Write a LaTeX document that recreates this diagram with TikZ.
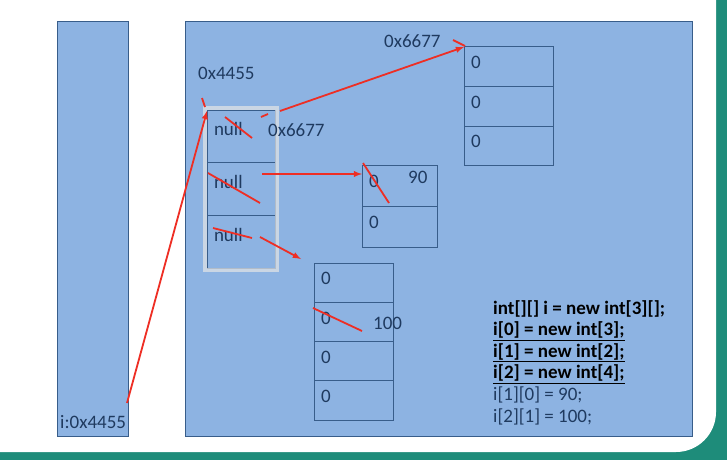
\documentclass[tikz,border=0pt]{standalone}
\usepackage{fontspec}
\setmainfont{Carlito}
\usetikzlibrary{arrows,positioning}
\definecolor{panel}{HTML}{8DB3E2}
\definecolor{edge}{HTML}{385D8A}
\definecolor{ink}{HTML}{1F3A5F}
\definecolor{mark}{HTML}{EE2E24}
\definecolor{rim}{HTML}{1E8C7A}

\begin{document}
\begin{tikzpicture}[
  x=1pt,y=-1pt,
  node distance=0pt,
  area/.style={draw=edge,fill=panel,line width=1pt},
  cell/.style={draw=edge,line width=1pt,outer sep=0pt,inner xsep=7pt,
    text=ink,font=\fontsize{19}{21}\selectfont,align=left},
  topcell/.style={cell,text width=75pt,minimum height=39.5pt,text depth=8pt},
  midcell/.style={cell,text width=61pt,minimum height=41pt,text depth=8pt},
  lowcell/.style={cell,text width=65pt,minimum height=39.25pt,text depth=8pt},
  nullcell/.style={cell,text width=54pt,minimum height=52.7pt,text depth=14pt},
  addr/.style={text=ink,font=\fontsize{19}{21}\selectfont,anchor=west,inner sep=0pt},
  pointer/.style={draw=mark,line width=1.8pt,-latex},
  strike/.style={draw=mark,line width=1.8pt}
]
  \useasboundingbox (0,0) rectangle (727,460);
  \fill[rim] (0,0) rectangle (727,460);
  \fill[white,rounded corners=40pt] (-40,-40) rectangle (716,452);

  % stack and heap
  \draw[area] (57,22) rectangle (128,436);
  \draw[area] (185,22) rectangle (692,436);
  \node[addr] (ivar) at (60,422) {i:0x4455};

  % i -> int[3][]
  \node[nullcell,anchor=north west] (n0) at (207,110) {null};
  \node[nullcell,below=of n0] (n1) {null};
  \node[nullcell,below=of n1] (n2) {null};
  \draw[white!80!gray,line width=3.5pt,opacity=.7] (205,108) rectangle (277,270);
  \node[addr] (a4455) at (198,73) {0x4455};
  \node[addr] (a6677) at (268,130) {0x6677};

  % i[0]
  \node[topcell,anchor=north west] (t0) at (464,47) {0};
  \node[topcell,below=of t0] (t1) {0};
  \node[topcell,below=of t1] (t2) {0};
  \node[addr] (b6677) at (384,41) {0x6677};

  % i[1]
  \node[midcell,anchor=north west] (m0) at (362,165) {0};
  \node[midcell,below=of m0] (m1) {0};
  \node[addr] (v90) at (408,177) {90};

  % i[2]
  \node[lowcell,anchor=north west] (l0) at (314,263) {0};
  \node[lowcell,below=of l0] (l1) {0};
  \node[lowcell,below=of l1] (l2) {0};
  \node[lowcell,below=of l2] (l3) {0};
  \node[addr] (v100) at (373,323) {100};

  % code
  \node[anchor=north west,align=left,inner sep=0pt,
    font=\fontsize{19}{21.6}\selectfont] (code) at (493,300)
    {\textbf{int[][] i = new int[3][];}\\
     \underline{\textbf{i[0] = new int[3];}}\\
     \underline{\textbf{i[1] = new int[2];}}\\
     \underline{\textbf{i[2] = new int[4];}}\\
     \textcolor{ink}{i[1][0] = 90;}\\
     \textcolor{ink}{i[2][1] = 100;}};

  % pointers
  \coordinate (p0) at (127,403);
  \coordinate (q0) at (207,111);
  \coordinate (p1) at (280,111);
  \coordinate (p2) at (262,174);
  \coordinate (q2) at (362,174);
  \coordinate (p3) at (260,237);
  \coordinate (q3) at (301,259);
  \draw[pointer] (p0) -- (q0);
  \draw[pointer] (p1) -- (t0.north west);
  \draw[pointer] (p2) -- (q2);
  \draw[pointer] (p3) -- (q3);

  % crossings out
  \draw[strike] (202,98) -- (205,107);
  \draw[strike] (453,40) -- (465,46);
  \draw[strike] (261,117) -- (268,114);
  \draw[strike] (225,117) -- (252,138);
  \draw[strike] (208,173) -- (260,203);
  \draw[strike] (213,228) -- (252,238);
  \draw[strike] (363,163) -- (389,203);
  \draw[strike] (313,308) -- (362,331);
\end{tikzpicture}
\end{document}
